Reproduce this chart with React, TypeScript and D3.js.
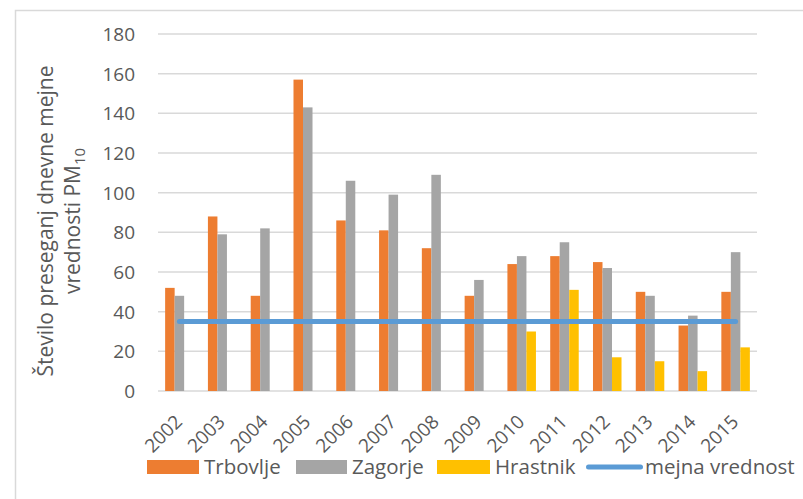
import React from 'react';
import * as d3 from 'd3';

const years = ['2002','2003','2004','2005','2006','2007','2008','2009','2010','2011','2012','2013','2014','2015'];
const trbovlje = [52, 88, 48, 157, 86, 81, 72, 48, 64, 68, 65, 50, 33, 50];
const zagorje = [48, 79, 82, 143, 106, 99, 109, 56, 68, 75, 62, 48, 38, 70];
const hrastnik: (number | null)[] = [null, null, null, null, null, null, null, null, 30, 51, 17, 15, 10, 22];
const mejna = [35, 35, 35, 35, 35, 35, 35, 35, 35, 35, 35, 35, 35, 35];
const yTicks = [0, 20, 40, 60, 80, 100, 120, 140, 160, 180];
const seriesNames = ['Trbovlje', 'Zagorje', 'Hrastnik', 'mejna vrednost'];
const colors = ['#ed7d31', '#a5a5a5', '#ffc000', '#5b9bd5'];

const FONT = '"Open Sans", sans-serif';
const TXT = '#595959';

export default function App() {
  const W = 803, H = 499;
  const x0 = 158, x1 = 757, yTop = 34, yBot = 391;
  const x = d3.scaleBand<string>().domain(years).range([x0, x1]).paddingInner(0).paddingOuter(0);
  const y = d3.scaleLinear().domain([0, 180]).range([yBot, yTop]);
  const bw = x.bandwidth();
  const barW = bw / (3 + 1.5);
  const gap = barW * 1.5;
  const inner = d3.scaleBand<number>().domain([0, 1, 2]).range([gap / 2, gap / 2 + 3 * barW]);
  const series = [trbovlje, zagorje, hrastnik];
  const line = d3.line<number>().x((_, i) => (x(years[i]) as number) + bw / 2).y(d => y(d));

  const legendItems = [
    { x: 147, w: 52, tx: 204 },
    { x: 296, w: 51, tx: 352 },
    { x: 437, w: 53, tx: 495 },
    { x: 586, w: 57, tx: 645 },
  ];

  return (
    <svg width={W} height={H} style={{ position: 'absolute', left: 0, top: 0, background: '#fff' }}>
      <rect x={15.5} y={10.5} width={W} height={H} fill="#fff" stroke="#d9d9d9" strokeWidth={1.5} />
      {yTicks.map(t => (
        <g key={t}>
          <line x1={x0} x2={x1} y1={y(t)} y2={y(t)} stroke="#d9d9d9" strokeWidth={1.5} />
          <text x={135} y={y(t)} dy="0.36em" textAnchor="end" fontFamily={FONT} fontSize={19} fill={TXT}>{t}</text>
        </g>
      ))}
      {series.map((s, si) => (
        <g key={si}>
          {s.map((v, i) => v == null ? null : (
            <rect key={i} x={(x(years[i]) as number) + (inner(si) as number)} y={y(v)} width={barW} height={y(0) - y(v)} fill={colors[si]} />
          ))}
        </g>
      ))}
      <path d={line(mejna) || ''} fill="none" stroke={colors[3]} strokeWidth={5} strokeLinecap="round" />
      {years.map(yr => (
        <text key={yr} transform={`translate(${(x(yr) as number) + bw / 2 + 4},423) rotate(-45)`} textAnchor="end" fontFamily={FONT} fontSize={19} fill={TXT}>{yr}</text>
      ))}
      <g transform="translate(0,221) rotate(-90)" fontFamily={FONT} fontSize={21} fill={TXT} textAnchor="middle">
        <text x={0} y={53}>Število preseganj dnevne mejne</text>
        <text x={0} y={80}>vrednosti PM<tspan fontSize={15} dy={5}>10</tspan></text>
      </g>
      {legendItems.map((it, i) => (
        <g key={i}>
          {i < 3 ? (
            <rect x={it.x} y={460} width={it.w} height={14} fill={colors[i]} />
          ) : (
            <line x1={it.x + 2.5} x2={it.x + it.w - 2.5} y1={467} y2={467} stroke={colors[i]} strokeWidth={5} strokeLinecap="round" />
          )}
          <text x={it.tx} y={467} dy="0.35em" fontFamily={FONT} fontSize={20.5} fill={TXT}>{seriesNames[i]}</text>
        </g>
      ))}
    </svg>
  );
}
